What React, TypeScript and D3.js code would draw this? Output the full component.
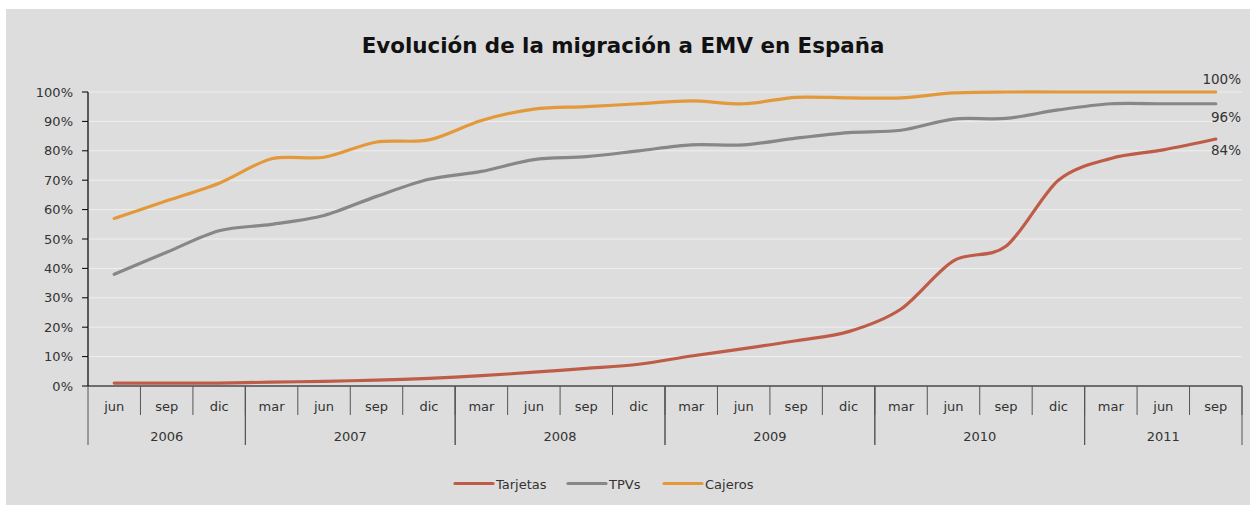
import React from "react";
import * as d3 from "d3";

const months = ["jun","sep","dic","mar","jun","sep","dic","mar","jun","sep","dic","mar","jun","sep","dic","mar","jun","sep","dic","mar","jun","sep"];
const years = ["2006","2007","2008","2009","2010","2011"];
const yearCounts = [3,4,4,4,4,3];
const tarjetas = [1.0,1.0,1.0,1.3,1.6,2.0,2.6,3.5,4.7,6.0,7.4,10.2,12.7,15.4,18.5,26.2,42.6,47.5,70.0,77.4,80.3,84.0];
const tpvs = [38,45.5,52.8,55,58,64.5,70.3,73,77,78,80,82,82,84.3,86.2,87,90.8,91,93.9,96,96,96];
const cajeros = [57,63,69,77.3,77.8,83,83.7,90.3,94.2,95,96,97,96,98.2,98,98,99.7,100,100,100,100,100];
const yTicks = [0,10,20,30,40,50,60,70,80,90,100];
const seriesNames = ["Tarjetas","TPVs","Cajeros"];
const endLabels = ["84%","96%","100%"];

const colors = ["#bf5c48", "#878787", "#e3993a"];
const FONT = "'DejaVu Sans', Verdana, sans-serif";

export default function App() {
  const W = 1250, H = 505;
  const left = 88, right = 1242, top = 92, bottom = 386;
  const idx = months.map((_, i) => i);
  const x = d3.scaleBand<number>().domain(idx).range([left, right]);
  const cx = (i: number) => (x(i) as number) + x.bandwidth() / 2;
  const y = d3.scaleLinear().domain([0, 100]).range([bottom, top]);
  const line = d3.line<number>().x((_, i) => cx(i)).y(d => y(d)).curve(d3.curveCardinal.tension(0.1));
  const data = [tarjetas, tpvs, cajeros];

  const yearStarts: number[] = [];
  let acc = 0;
  yearCounts.forEach(c => { yearStarts.push(acc); acc += c; });

  const legendX = [455, 568, 664];
  const endY = [155, 121.5, 83.5];

  return (
    <svg width={W} height={H} style={{ position: "absolute", left: 0, top: 0 }} fontFamily={FONT}>
      <rect x={0} y={0} width={W} height={H} fill="#ffffff" />
      <rect x={6} y={9} width={W - 6} height={H - 9} fill="#dddddd" />
      <text x={623} y={53} textAnchor="middle" fontSize={21.4} fontWeight="bold" fill="#111">
        Evolución de la migración a EMV en España
      </text>
      {yTicks.map(t => (
        <g key={t}>
          {t > 0 && <line x1={left} x2={right} y1={y(t)} y2={y(t)} stroke="#efefef" strokeWidth={1} />}
          <line x1={left - 6} x2={left} y1={y(t)} y2={y(t)} stroke="#000" strokeWidth={1} />
          <text x={73} y={y(t) + 4.5} textAnchor="end" fontSize={13} fill="#333">{t}%</text>
        </g>
      ))}
      <line x1={left} x2={left} y1={top} y2={bottom} stroke="#000" strokeWidth={1.2} />
      <line x1={left} x2={right} y1={bottom} y2={bottom} stroke="#000" strokeWidth={1.2} />
      {idx.map(i => (
        <g key={i}>
          <line x1={(x(i) as number) + x.bandwidth()} x2={(x(i) as number) + x.bandwidth()} y1={bottom} y2={415} stroke="#555" strokeWidth={1} />
          <text x={cx(i)} y={411} textAnchor="middle" fontSize={13} fill="#333">{months[i]}</text>
        </g>
      ))}
      {years.map((yr, k) => {
        const s = yearStarts[k];
        const e = s + yearCounts[k] - 1;
        const x0 = x(s) as number;
        const x1 = (x(e) as number) + x.bandwidth();
        return (
          <g key={yr}>
            <line x1={x0} x2={x0} y1={bottom} y2={445} stroke="#555" strokeWidth={1} />
            <line x1={x1} x2={x1} y1={bottom} y2={445} stroke="#555" strokeWidth={1} />
            <text x={(x0 + x1) / 2} y={441} textAnchor="middle" fontSize={13} fill="#333">{yr}</text>
          </g>
        );
      })}
      {data.map((d, k) => (
        <path key={k} d={line(d) as string} fill="none" stroke={colors[k]} strokeWidth={3.2} strokeLinecap="round" />
      ))}
      {endLabels.map((l, k) => (
        <text key={l} x={1241} y={endY[k]} textAnchor="end" fontSize={13.5} fill="#333">{l}</text>
      ))}
      {seriesNames.map((n, k) => (
        <g key={n}>
          <line x1={legendX[k]} x2={legendX[k] + 38} y1={483.5} y2={483.5} stroke={colors[k]} strokeWidth={3.2} strokeLinecap="round" />
          <text x={legendX[k] + 41} y={488.5} fontSize={13} fill="#333">{n}</text>
        </g>
      ))}
    </svg>
  );
}
